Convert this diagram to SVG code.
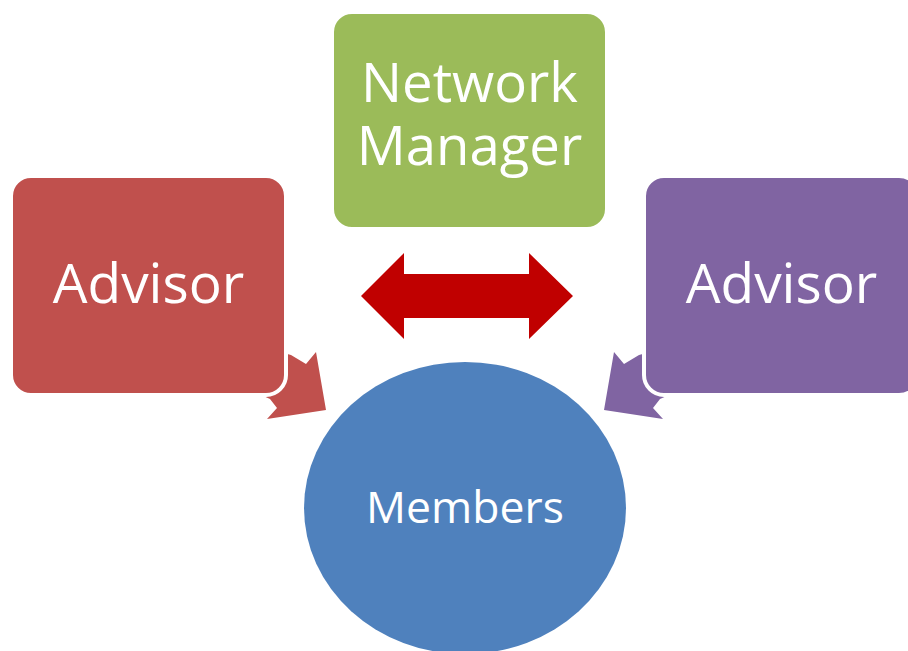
<svg xmlns="http://www.w3.org/2000/svg" width="908" height="651" viewBox="0 0 908 651">
<style>
.box{stroke:#ffffff;stroke-width:4}
.lbl{font-family:"Open Sans","Liberation Sans",sans-serif;fill:#ffffff;text-anchor:middle}
</style>
<rect width="908" height="651" fill="#ffffff"/>
<g id="connectors">
<polygon points="291,355 306,364 316,352 326,410 267,419 277,408 270,399 250,390 255,345" fill="#C0504D"/>
<polygon points="639,355 624,364 614,352 604,410 663,419 653,408 660,399 680,390 675,345" fill="#8064A2"/>
<polygon points="361,296 404,253 404,274 529,274 529,253 573,296 529,339 529,318 404,318 404,339" fill="#C00000"/>
</g>
<g id="advisor-left">
<rect class="box" x="11" y="176" width="275" height="219" rx="20" fill="#C0504D"/>
<text class="lbl" x="148.5" y="303" font-size="55">Advisor</text>
</g>
<g id="network-manager">
<rect class="box" x="332" y="12" width="275" height="217" rx="20" fill="#9BBB59"/>
<text class="lbl" font-size="54.5"><tspan x="469.5" y="102">Network</tspan><tspan x="469.5" y="165">Manager</tspan></text>
</g>
<g id="advisor-right">
<rect class="box" x="644" y="176" width="275" height="219" rx="20" fill="#8064A2"/>
<text class="lbl" x="781.5" y="303" font-size="55">Advisor</text>
</g>
<g id="members">
<ellipse cx="465" cy="508" rx="161" ry="146" fill="#4F81BD"/>
<text class="lbl" x="465" y="523" font-size="44.5">Members</text>
</g>
</svg>
